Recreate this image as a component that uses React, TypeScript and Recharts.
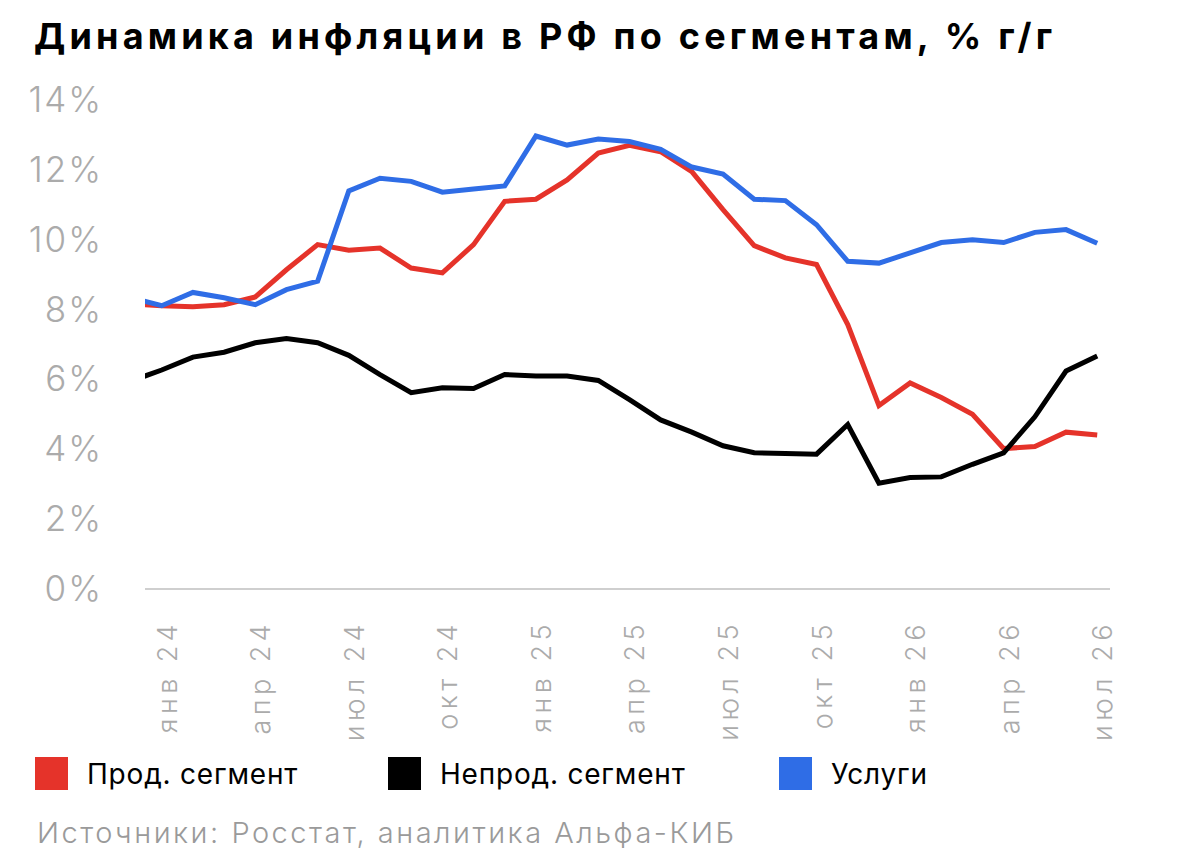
import { CartesianGrid, Line, LineChart, XAxis, YAxis } from 'recharts'

// index 0 = дек 23 (only a sliver is visible at the left edge)
const months = [
  'дек 23',
  'янв 24', 'фев 24', 'мар 24', 'апр 24', 'май 24', 'июн 24', 'июл 24', 'авг 24', 'сен 24', 'окт 24', 'ноя 24', 'дек 24',
  'янв 25', 'фев 25', 'мар 25', 'апр 25', 'май 25', 'июн 25', 'июл 25', 'авг 25', 'сен 25', 'окт 25', 'ноя 25', 'дек 25',
  'янв 26', 'фев 26', 'мар 26', 'апр 26', 'май 26', 'июн 26', 'июл 26',
]

const prod = [
  8.16,
  8.11, 8.08, 8.14, 8.36, 9.14, 9.86, 9.7, 9.76, 9.19, 9.05, 9.86, 11.1,
  11.16, 11.71, 12.48, 12.7, 12.52, 11.95, 10.86, 9.83, 9.48, 9.29, 7.57, 5.25,
  5.9, 5.48, 5.0, 4.02, 4.08, 4.49, 4.41,
]

const nonProd = [
  5.95,
  6.27, 6.64, 6.78, 7.05, 7.17, 7.05, 6.69, 6.14, 5.62, 5.76, 5.74, 6.14,
  6.1, 6.1, 5.97, 5.42, 4.84, 4.49, 4.1, 3.9, 3.88, 3.86, 4.71, 3.03,
  3.19, 3.21, 3.57, 3.9, 4.93, 6.24, 6.67,
]

const services = [
  8.34,
  8.11, 8.49, 8.34, 8.14, 8.57, 8.81, 11.4, 11.76, 11.67, 11.36, 11.45, 11.54,
  12.97, 12.71, 12.88, 12.81, 12.59, 12.08, 11.88, 11.16, 11.12, 10.43, 9.38, 9.33,
  9.62, 9.92, 10.0, 9.92, 10.21, 10.29, 9.9,
]

const xTicks = [1, 4, 7, 10, 13, 16, 19, 22, 25, 28, 31]
const yTicks = [0, 2, 4, 6, 8, 10, 12, 14]

const RED = '#E5332A'
const BLACK = '#000000'
const BLUE = '#2F6DE6'
const GREY = '#ABABAB'
const FONT = 'Inter, "Noto Sans", sans-serif'

const series = [
  { key: 'prod', name: 'Прод. сегмент', color: RED },
  { key: 'nonProd', name: 'Непрод. сегмент', color: BLACK },
  { key: 'services', name: 'Услуги', color: BLUE },
]

const data = months.map((m, i) => ({
  idx: i,
  month: m,
  prod: prod[i],
  nonProd: nonProd[i],
  services: services[i],
}))

function XTick(props: any) {
  const { x, payload } = props
  return (
    <text
      transform={`translate(${x + 15}, 620) rotate(-90)`}
      textAnchor="end"
      fill={GREY}
      fontSize={27}
      fontWeight={300}
      letterSpacing={4.5}
      fontFamily={FONT}
    >
      {months[payload.value]}
    </text>
  )
}

function YTick(props: any) {
  const { y, payload } = props
  return (
    <text
      x={103}
      y={y}
      dy={12}
      textAnchor="end"
      fill={GREY}
      fontSize={35}
      fontWeight={300}
      letterSpacing={2}
      fontFamily={FONT}
    >
      {payload.value}%
    </text>
  )
}

export default function App() {
  return (
    <div
      style={{
        position: 'fixed',
        left: 0,
        top: 0,
        width: 1194,
        height: 868,
        background: '#fff',
        fontFamily: FONT,
        overflow: 'hidden',
      }}
    >
      <div
        style={{
          position: 'absolute',
          left: 34,
          top: 14,
          fontSize: 36,
          fontWeight: 700,
          letterSpacing: 4.2,
          color: '#000',
          whiteSpace: 'nowrap',
        }}
      >
        Динамика инфляции в РФ по сегментам, % г/г
      </div>

      <div style={{ position: 'absolute', left: 0, top: 0 }}>
        <LineChart
          width={1194}
          height={750}
          data={data}
          margin={{ top: 100, right: 84, left: 0, bottom: 0 }}
        >
          <CartesianGrid horizontal={false} vertical={false} />
          <XAxis
            dataKey="idx"
            type="number"
            domain={[0.464, 31.41]}
            allowDataOverflow
            ticks={xTicks}
            interval={0}
            tick={<XTick />}
            tickLine={false}
            axisLine={{ stroke: '#CFCFCF', strokeWidth: 2 }}
            height={161}
          />
          <YAxis
            type="number"
            domain={[0, 14]}
            ticks={yTicks}
            interval={0}
            tick={<YTick />}
            tickLine={false}
            axisLine={false}
            width={145}
          />
          {series.map((s) => (
            <Line
              key={s.key}
              type="linear"
              dataKey={s.key}
              name={s.name}
              stroke={s.color}
              strokeWidth={5}
              dot={false}
              activeDot={false}
              isAnimationActive={false}
            />
          ))}
        </LineChart>
      </div>

      {series.map((s, i) => (
        <div
          key={s.key}
          style={{
            position: 'absolute',
            left: [35, 388, 779][i],
            top: 757,
            display: 'flex',
            alignItems: 'center',
            height: 33,
          }}
        >
          <span style={{ width: 33, height: 33, background: s.color, display: 'inline-block' }} />
          <span style={{ marginLeft: 19, fontSize: 28, letterSpacing: 0.8, color: '#000', whiteSpace: 'nowrap' }}>
            {s.name}
          </span>
        </div>
      ))}

      <div
        style={{
          position: 'absolute',
          left: 37,
          top: 815,
          fontSize: 29,
          fontWeight: 300,
          letterSpacing: 2.5,
          color: '#9A9A9A',
          whiteSpace: 'nowrap',
        }}
      >
        Источники: Росстат, аналитика Альфа-КИБ
      </div>
    </div>
  )
}
